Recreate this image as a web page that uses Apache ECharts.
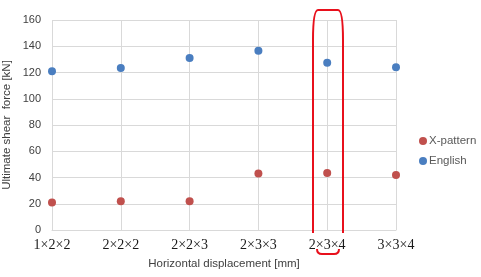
<!DOCTYPE html>
<html><head><meta charset="utf-8">
<script src="https://cdn.jsdelivr.net/npm/echarts@6/dist/echarts.min.js"></script>
<style>html,body{margin:0;padding:0;background:#fff}#c{width:481px;height:277px}</style>
</head><body><div id="c"></div>
<script>
const categories = ['1×2×2','2×2×2','2×2×3','2×3×3','2×3×4','3×3×4'];
const xPattern = [21, 22, 22, 43, 43.5, 42];
const english = [121, 123.5, 131, 136.5, 127.5, 124];
const yTicks = {min: 0, max: 160, interval: 20};

const red = '#e8101c';
function curve(x1,y1,cx,cy,x2,y2){
  return {type:'bezierCurve', silent:true, z:100,
    shape:{x1:x1,y1:y1,cpx1:cx,cpy1:cy,x2:x2,y2:y2},
    style:{fill:null, stroke:red, lineWidth:2}};
}
function line(x1,y1,x2,y2){
  return {type:'line', silent:true, z:100,
    shape:{x1:x1,y1:y1,x2:x2,y2:y2},
    style:{stroke:red, lineWidth:2}};
}

const chart = echarts.init(document.getElementById('c'), null, {renderer: 'canvas'});
chart.setOption({
  animation: false,
  backgroundColor: '#fff',
  grid: {left: 52, right: 85, top: 20, bottom: 47, containLabel: false, outerBoundsMode: 'none'},
  legend: {
    orient: 'vertical', left: 414, top: 130, itemGap: 8,
    itemWidth: 8, itemHeight: 8, icon: 'circle',
    textStyle: {fontFamily: 'Liberation Sans', fontSize: 11.5, color: '#595959', padding: [0,0,0,-3]},
    data: ['X-pattern', 'English']
  },
  xAxis: {
    type: 'category', data: categories, boundaryGap: false,
    axisLine: {show: true, lineStyle: {color: '#d9d9d9'}},
    axisTick: {show: false},
    splitLine: {show: true, lineStyle: {color: '#d9d9d9'}},
    axisLabel: {fontFamily: 'Liberation Serif', fontSize: 14, color: '#1a1a1a', margin: 8},
    name: 'Horizontal displacement [mm]', nameLocation: 'middle', nameGap: 28,
    nameTextStyle: {fontFamily: 'Liberation Sans', fontSize: 11.5, color: '#404040'}
  },
  yAxis: {
    type: 'value', min: yTicks.min, max: yTicks.max, interval: yTicks.interval,
    axisLine: {show: false}, axisTick: {show: false},
    splitLine: {lineStyle: {color: '#d9d9d9'}},
    axisLabel: {fontFamily: 'Liberation Sans', fontSize: 11, color: '#404040', margin: 11},
    name: 'Ultimate shear  force [kN]', nameLocation: 'middle', nameGap: 39,
    nameMoveOverlap: false,
    nameTextStyle: {fontFamily: 'Liberation Sans', fontSize: 11.5, color: '#404040', padding: [7,0,0,0]}
  },
  series: [
    {name: 'X-pattern', type: 'scatter', data: xPattern, symbolSize: 8,
     itemStyle: {color: '#C0504D', opacity: 1}},
    {name: 'English', type: 'scatter', data: english, symbolSize: 8,
     itemStyle: {color: '#4A7EC0', opacity: 1}}
  ],
  graphic: [
    line(313,233,313,40),
    curve(313,40,313,10,318,10),
    line(318,10,338,10),
    curve(338,10,343,10,343,40),
    line(343,40,343,233),
    curve(317,249,317,254,322,254),
    line(322,254,334,254),
    curve(334,254,339,254,339,249)
  ]
});
</script></body></html>
